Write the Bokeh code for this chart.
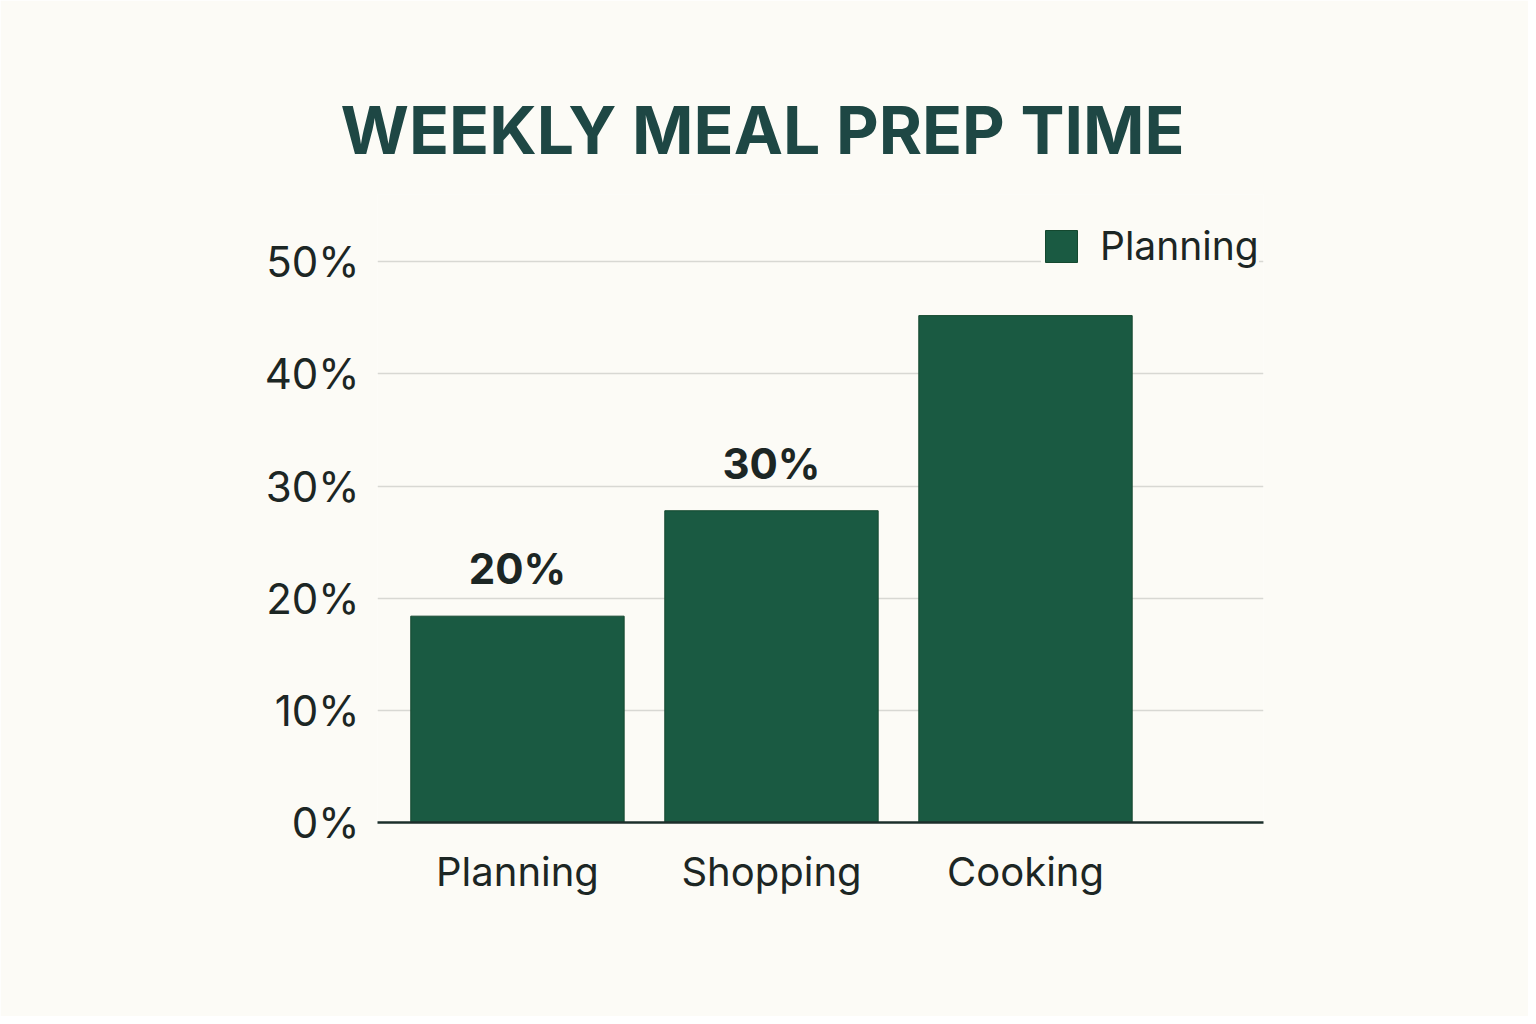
from bokeh.plotting import figure
from bokeh.models import (ColumnDataSource, FixedTicker, PrintfTickFormatter, Range1d,
                          Legend, LegendItem, Title)
from bokeh.core.properties import value
from bokeh.embed import file_html
from bokeh.resources import INLINE

categories = ["Planning", "Shopping", "Cooking"]
values = [18.4, 27.8, 45.2]
value_labels = ["20%", "30%", ""]
y_ticks = [0, 10, 20, 30, 40, 50]
legend_label = "Planning"
title_text = "WEEKLY MEAL PREP TIME"

BG = "#fcfbf6"
BAR = "#1a5a42"
DARK = "#1c2624"

xs = list(range(len(categories)))
src = ColumnDataSource(dict(x=xs, top=values, label=value_labels))

p = figure(width=1528, height=1016, output_backend="svg", toolbar_location=None,
           x_range=Range1d(-0.551, 2.937), y_range=Range1d(0, 56))
p.min_border_left = 377
p.min_border_right = 265
p.min_border_top = 194
p.min_border_bottom = 194
p.background_fill_color = BG
p.border_fill_color = BG
p.outline_line_color = None

r = p.vbar(x="x", top="top", width=0.84, source=src, fill_color=BAR,
           line_color="#14482f", line_width=1)

p.text(x="x", y="top", text="label", source=src, text_align="center",
       text_baseline="bottom", y_offset=-22, text_font=value("Inter"),
       text_font_style="bold", text_font_size="42px", text_color=DARK)

# axes
p.yaxis.ticker = FixedTicker(ticks=y_ticks)
p.yaxis.formatter = PrintfTickFormatter(format="%d%%")
p.yaxis.axis_line_color = None
p.yaxis.major_tick_line_color = None
p.yaxis.minor_tick_line_color = None
p.yaxis.major_label_standoff = 12
p.yaxis.major_label_text_font = "Inter"
p.yaxis.major_label_text_font_size = "42px"
p.yaxis.major_label_text_color = DARK

p.xaxis.ticker = FixedTicker(ticks=xs)
p.xaxis.major_label_overrides = {i: c for i, c in zip(xs, categories)}
p.xaxis.axis_line_color = "#1c2f2b"
p.xaxis.axis_line_width = 2.5
p.xaxis.major_tick_line_color = None
p.xaxis.minor_tick_line_color = None
p.xaxis.major_label_standoff = 18
p.xaxis.major_label_text_font = "Inter"
p.xaxis.major_label_text_font_size = "40px"
p.xaxis.major_label_text_color = DARK

p.xgrid.grid_line_color = None
p.ygrid.ticker = FixedTicker(ticks=y_ticks[1:])
p.ygrid.grid_line_color = "#d8d8d3"
p.ygrid.grid_line_width = 1.5

legend = Legend(items=[LegendItem(label=legend_label, renderers=[r])],
                location=(664, 553), orientation="vertical")
legend.background_fill_color = BG
legend.background_fill_alpha = 1
legend.border_line_color = None
legend.padding = 32
legend.margin = 0
legend.glyph_width = 40
legend.glyph_height = 40
legend.label_standoff = 19
legend.label_text_font = "Inter"
legend.label_text_font_size = "39px"
legend.label_text_color = DARK
p.add_layout(legend, "center")

t = Title(text=title_text, align="left", text_font="Inter", text_font_style="bold",
          text_font_size="66px", text_color="#1e4744", offset=-37, standoff=49)
p.add_layout(t, "above")

open("out.html", "w").write(file_html(p, INLINE))
